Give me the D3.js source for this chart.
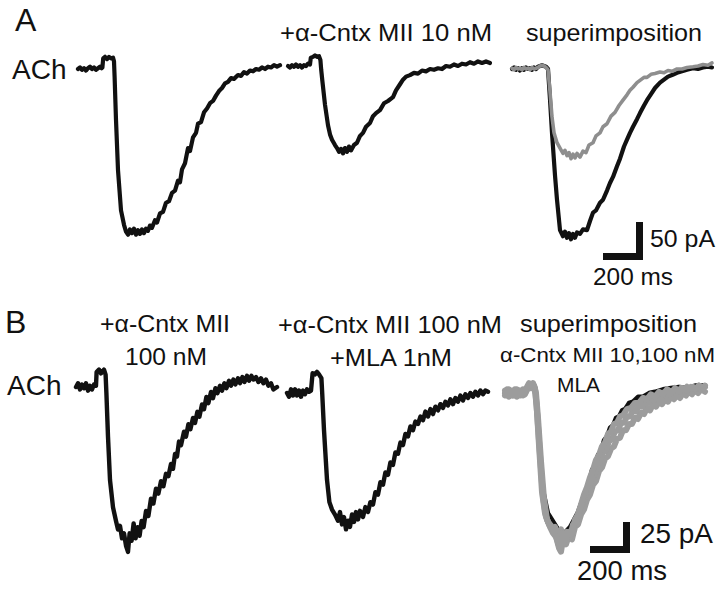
<!DOCTYPE html>
<html>
<head>
<meta charset="utf-8">
<script src="https://cdn.jsdelivr.net/npm/d3@7"></script>
<style>
  html, body { margin: 0; padding: 0; background: #fff; }
  svg text { font-family: "Liberation Sans", Arial, Helvetica, sans-serif; fill: #111; }
</style>
</head>
<body>
<div id="chart"></div>
<script>
// recordings as [time ms, current pA], time from start of each sweep

// A: control ACh response
const ctrlA = [[0,0],[10,2],[20,-1],[30,1],[40,-2],[50,1],[60,3],[70,0],[80,2],[90,-1],[100,1],[110,3],[118,1],[122,2],[126,14],[135,16],[145,13],[155,16],[165,14],[175,15],[180,10],[183,-10],[190,-67],[200,-133],[215,-186],[230,-205],[240,-214],[250,-218],[260,-211],[270,-216],[280,-210],[290,-218],[300,-212],[310,-217],[320,-211],[330,-216],[340,-210],[350,-213],[360,-206],[370,-209],[385,-199],[395,-202],[410,-190],[425,-188],[440,-176],[455,-174],[470,-163],[485,-160],[500,-147],[510,-149],[520,-132],[535,-124],[550,-104],[560,-108],[575,-90],[590,-84],[600,-72],[615,-70],[630,-57],[645,-52],[660,-45],[675,-42],[690,-35],[705,-29],[720,-25],[735,-19],[750,-17],[765,-12],[780,-13],[800,-8],[815,-9],[830,-4],[845,-6],[860,-2],[875,-3],[890,0],[905,-1],[920,2],[935,0],[950,3],[965,2],[980,5],[995,3],[1010,5]];

// A: + a-Cntx MII 10 nM
const tenA = [[0,0],[10,-2],[20,1],[30,-1],[40,2],[50,-1],[60,1],[70,-2],[80,1],[90,0],[100,3],[110,2],[114,11],[125,12],[135,14],[145,12],[155,13],[162,8],[166,-5],[172,-20],[185,-51],[200,-78],[210,-90],[220,-97],[235,-104],[245,-108],[255,-113],[265,-109],[275,-115],[285,-108],[295,-113],[305,-106],[315,-111],[330,-104],[345,-101],[360,-92],[375,-88],[390,-80],[410,-75],[425,-66],[440,-62],[460,-58],[480,-49],[500,-46],[525,-41],[540,-32],[560,-24],[575,-18],[590,-14],[610,-12],[630,-9],[650,-10],[670,-6],[690,-7],[710,-4],[730,-5],[750,-3],[770,-4],[790,0],[810,-1],[830,2],[850,0],[870,3],[890,2],[910,5],[930,3],[950,6],[970,4],[990,6],[1010,4]];

// A: superimposition
const supCtrlA = [[0,0],[10,2],[20,-1],[30,1],[40,-2],[50,1],[60,-1],[70,2],[80,0],[90,1],[100,-1],[110,2],[120,0],[130,3],[140,4],[150,5],[160,4],[170,3],[180,0],[190,-40],[200,-84],[215,-140],[225,-172],[240,-212],[255,-220],[265,-214],[275,-222],[285,-216],[295,-224],[305,-217],[315,-222],[325,-215],[340,-217],[355,-211],[375,-212],[390,-200],[405,-189],[420,-186],[440,-176],[455,-172],[475,-160],[490,-150],[505,-142],[525,-128],[540,-118],[560,-102],[575,-93],[590,-84],[605,-76],[625,-66],[640,-58],[660,-48],[675,-41],[695,-33],[715,-25],[740,-18],[760,-14],[780,-10],[800,-8],[825,-5],[850,-3],[875,-1],[905,1],[930,0],[955,2],[980,3],[1000,2]];
const supTenA = [[0,1],[10,-1],[20,2],[30,0],[40,1],[50,-1],[60,2],[70,0],[80,1],[90,-1],[100,2],[110,0],[120,1],[130,2],[140,4],[150,5],[160,4],[170,2],[180,-1],[190,-30],[200,-63],[210,-84],[225,-97],[240,-104],[255,-111],[265,-107],[275,-114],[285,-110],[295,-118],[305,-112],[315,-117],[325,-111],[340,-116],[355,-108],[370,-110],[385,-100],[405,-97],[420,-88],[440,-84],[455,-76],[475,-72],[495,-62],[515,-57],[535,-48],[555,-41],[575,-34],[590,-28],[605,-24],[625,-18],[640,-15],[660,-11],[675,-11],[695,-7],[715,-6],[740,-4],[760,-5],[780,-2],[800,-3],[825,0],[850,0],[875,2],[905,3],[930,4],[955,6],[980,5],[1000,8]];

// B: + a-Cntx MII 100 nM
const hundredB = [[0,0],[10,3],[20,-2],[30,2],[40,-1],[50,3],[60,-3],[70,1],[80,-2],[90,2],[100,1],[103,12],[115,14],[125,11],[140,14],[148,10],[152,-5],[160,-40],[170,-75],[185,-97],[200,-108],[210,-115],[220,-112],[230,-122],[240,-118],[250,-128],[260,-133],[268,-118],[278,-124],[288,-110],[298,-122],[308,-113],[318,-120],[328,-108],[338,-113],[350,-100],[362,-104],[375,-90],[387,-94],[400,-82],[412,-86],[425,-76],[437,-80],[450,-70],[462,-72],[475,-62],[485,-66],[495,-54],[505,-56],[515,-44],[525,-47],[540,-36],[550,-40],[562,-30],[572,-34],[585,-25],[595,-29],[607,-20],[617,-24],[630,-14],[640,-18],[652,-8],[662,-13],[675,-4],[685,-9],[697,-1],[707,-5],[720,1],[730,-3],[742,3],[752,-1],[765,5],[775,1],[787,6],[797,2],[810,7],[820,3],[832,8],[842,4],[855,9],[865,5],[877,9],[887,6],[900,8],[912,4],[925,7],[937,3],[950,6],[962,1],[975,3],[987,-2],[1005,0]];

// B: + a-Cntx MII 100 nM + MLA 1 nM
const mlaB = [[0,0],[10,-3],[20,3],[30,-2],[40,3],[50,-2],[60,2],[70,-3],[80,2],[90,-1],[100,3],[110,1],[120,2],[128,16],[140,15],[150,17],[160,15],[172,12],[176,0],[185,-30],[200,-70],[212,-88],[225,-94],[240,-98],[255,-103],[265,-96],[275,-106],[285,-100],[295,-110],[305,-103],[315,-108],[325,-98],[335,-104],[345,-96],[355,-102],[365,-95],[380,-100],[392,-92],[405,-96],[417,-88],[430,-90],[442,-80],[455,-82],[467,-72],[480,-74],[492,-64],[505,-66],[517,-56],[530,-58],[542,-48],[555,-49],[567,-40],[580,-42],[592,-33],[605,-35],[617,-27],[630,-30],[642,-23],[655,-25],[667,-19],[680,-22],[692,-15],[705,-19],[717,-13],[730,-17],[742,-11],[755,-14],[767,-9],[780,-12],[792,-7],[805,-10],[817,-5],[830,-9],[842,-4],[855,-7],[867,-2],[880,-6],[892,-1],[905,-4],[917,0],[930,-3],[942,1],[955,-2],[967,2],[980,-1],[992,2],[1005,1]];

// B: superimposition
const supCtrlB = [[0,0],[10,2],[20,-2],[30,1],[40,-1],[50,2],[60,-2],[70,1],[80,-1],[90,2],[100,0],[115,6],[130,7],[145,6],[155,-6],[170,-38],[190,-78],[215,-97],[250,-106],[285,-115],[325,-108],[365,-96],[400,-80],[420,-72],[435,-62],[450,-58],[465,-50],[480,-47],[495,-38],[510,-35],[525,-28],[540,-26],[555,-20],[570,-19],[585,-14],[600,-13],[620,-8],[640,-7],[665,-3],[690,-3],[720,0],[750,1],[790,3],[830,4],[870,5],[910,4],[950,6],[1000,6]];
const supTenB = [[0,2],[10,-2],[20,3],[30,-1],[40,2],[50,-2],[60,3],[70,-1],[80,2],[90,-2],[100,2],[110,5],[120,8],[130,6],[140,8],[150,4],[158,-10],[170,-42],[185,-80],[200,-97],[215,-104],[230,-107],[245,-112],[260,-118],[275,-126],[290,-113],[305,-118],[320,-112],[335,-113],[350,-102],[365,-98],[380,-90],[395,-82],[410,-76],[425,-68],[440,-62],[455,-54],[470,-50],[485,-43],[500,-40],[515,-33],[530,-31],[545,-25],[560,-24],[575,-19],[590,-18],[610,-13],[630,-12],[650,-8],[670,-8],[690,-4],[710,-5],[730,-1],[750,-3],[770,1],[790,-1],[810,3],[830,0],[850,4],[870,1],[890,4],[910,2],[930,5],[950,3],[970,6],[990,4],[1000,6]];
const supHundredB = [[0,-2],[10,2],[20,-3],[30,1],[40,-2],[50,2],[60,-3],[70,1],[80,-2],[90,2],[100,-1],[115,4],[125,7],[135,5],[145,6],[155,0],[165,-20],[180,-55],[195,-85],[210,-102],[225,-108],[240,-113],[255,-116],[270,-125],[280,-128],[290,-118],[305,-122],[320,-115],[335,-118],[350,-108],[365,-106],[380,-98],[395,-94],[410,-86],[425,-82],[440,-74],[455,-71],[470,-63],[485,-60],[500,-53],[515,-51],[530,-45],[545,-43],[560,-37],[575,-36],[590,-30],[605,-30],[620,-25],[635,-25],[650,-20],[665,-21],[680,-16],[695,-17],[710,-12],[725,-14],[740,-9],[755,-11],[770,-7],[785,-9],[800,-5],[815,-7],[830,-3],[845,-5],[860,-2],[875,-4],[890,0],[905,-2],[920,1],[935,-1],[950,2],[965,0],[980,3],[1000,1]];
const supMlaB = [[0,0],[10,3],[20,-1],[30,2],[40,-2],[50,3],[60,0],[70,2],[80,-1],[90,3],[100,0],[110,3],[120,6],[130,4],[140,7],[150,3],[160,-15],[175,-50],[190,-84],[205,-100],[220,-106],[235,-110],[250,-108],[265,-116],[280,-110],[295,-120],[310,-112],[325,-116],[340,-106],[355,-104],[370,-95],[385,-90],[400,-83],[415,-78],[430,-70],[445,-66],[460,-58],[475,-55],[490,-48],[505,-46],[520,-39],[535,-37],[550,-31],[565,-30],[580,-24],[595,-24],[610,-19],[625,-19],[640,-14],[655,-15],[670,-10],[685,-11],[700,-7],[715,-8],[730,-4],[745,-6],[760,-2],[775,-4],[790,0],[805,-2],[820,2],[835,0],[850,3],[865,1],[880,4],[895,2],[910,5],[925,3],[940,5],[955,3],[970,6],[985,4],[1000,5]];

// scale bars: [ms, pA]
const scaleBarA = [200, 50];
const scaleBarB = [200, 25];

const width = 720, height = 590;
const ink = '#111', grey = '#8e8e8e', greyB = '#9c9c9c';

const svg = d3.select('#chart').append('svg')
  .attr('width', width)
  .attr('height', height);

// same time base for both panels, current gain differs
const x = d3.scaleLinear().domain([0, 1000]).range([0, 200]);
const yA = d3.scaleLinear().domain([0, -100]).range([0, 76]);
const yB = d3.scaleLinear().domain([0, -100]).range([0, 124]);

function drawTrace(ox, oy, data, yScale, color, w) {
  const line = d3.line()
    .x(d => x(d[0]))
    .y(d => yScale(d[1]));
  svg.append('path')
    .attr('transform', `translate(${ox},${oy})`)
    .attr('d', line(data))
    .attr('fill', 'none')
    .attr('stroke', color)
    .attr('stroke-width', w)
    .attr('stroke-linejoin', 'round')
    .attr('stroke-linecap', 'round');
}

function label(txt, lx, ly, size, len) {
  const t = svg.append('text')
    .attr('x', lx)
    .attr('y', ly)
    .attr('font-size', size)
    .text(txt);
  if (len) t.attr('textLength', len).attr('lengthAdjust', 'spacingAndGlyphs');
  return t;
}

// corner of scale bar = bottom-right (cx, cy)
function scaleBar(cx, cy, bar, yScale, thick) {
  const w = x(bar[0]), h = yScale(-bar[1]);
  svg.append('rect').attr('x', cx - w).attr('y', cy - thick).attr('width', w).attr('height', thick).attr('fill', ink);
  svg.append('rect').attr('x', cx - thick).attr('y', cy - h).attr('width', thick).attr('height', h).attr('fill', ink);
}

// ---- panel A ----
label('A', 15, 31, 32);
label('ACh', 12, 79, 28);
label('+\u03b1-Cntx MII 10 nM', 280, 41, 24, 212);
label('superimposition', 526, 41, 24, 176);

drawTrace(78, 69, ctrlA, yA, ink, 4.2);
drawTrace(288, 66, tenA, yA, ink, 4.2);
drawTrace(512, 69, supCtrlA, yA, ink, 4.2);
drawTrace(512, 69, supTenA, yA, grey, 3.6);

scaleBar(643, 260, scaleBarA, yA, 7);
label('50 pA', 650, 247, 24, 65);
label('200 ms', 593, 285, 24, 80);

// ---- panel B ----
label('B', 5, 333, 32);
label('ACh', 7, 395, 28);
label('+\u03b1-Cntx MII', 100, 332, 24, 130);
label('100 nM', 125, 365, 24, 82);
label('+\u03b1-Cntx MII 100 nM', 278, 333, 24, 224);
label('+MLA 1nM', 330, 366, 24, 122);
label('superimposition', 520, 332, 24, 177);
label('\u03b1-Cntx MII 10,100 nM', 500, 362, 21, 215);
label('MLA', 557, 392, 20, 43);

drawTrace(76, 387, hundredB, yB, ink, 4.4);
drawTrace(287, 393, mlaB, yB, ink, 4.4);
drawTrace(505, 393, supCtrlB, yB, ink, 4.4);
drawTrace(505, 393, supHundredB, yB, greyB, 6);
drawTrace(505, 393, supMlaB, yB, greyB, 6);
drawTrace(505, 393, supTenB, yB, greyB, 6);

scaleBar(630, 553, scaleBarB, yB, 7);
label('25 pA', 640, 543, 27, 73);
label('200 ms', 577, 580, 27, 90);
</script>
</body>
</html>
